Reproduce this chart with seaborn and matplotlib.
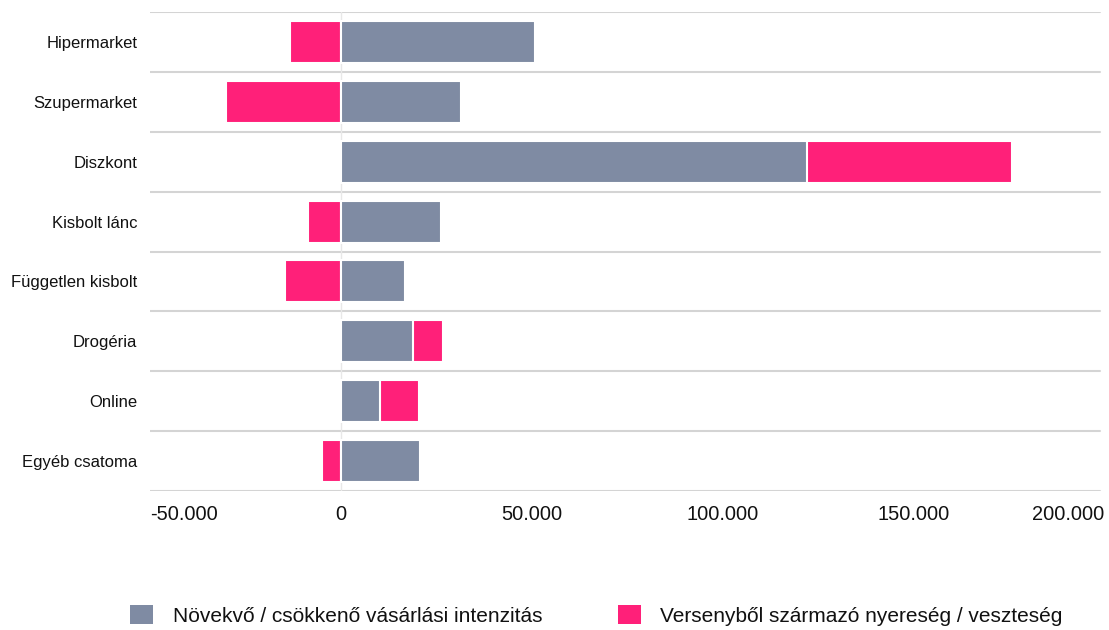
import matplotlib
matplotlib.use("Agg")
import matplotlib.pyplot as plt
import seaborn as sns
import pandas as pd
import numpy as np
from matplotlib.patches import Patch
from matplotlib.ticker import FuncFormatter

categories = ["Hipermarket", "Szupermarket", "Diszkont", "Kisbolt lánc",
              "Független kisbolt", "Drogéria", "Online", "Egyéb csatoma"]
intensity = [51000, 31500, 122200, 26300, 16800, 18800, 10200, 20800]
competition = [-13200, -30000, 53800, -8700, -14500, 8000, 10300, -4800]
series_names = ["Növekvő / csökkenő vásárlási intenzitás",
                "Versenyből származó nyereség / veszteség"]
xticks = [-50000, 0, 50000, 100000, 150000, 200000]

GRAY = "#7f8ba3"
PINK = "#ff2079"

sns.set_theme(style="white")
plt.rcParams["font.family"] = ["Liberation Sans", "DejaVu Sans"]

df = pd.DataFrame({"cat": categories, "intensity": intensity, "competition": competition})
# pink bar end: stacked after gray if positive, from zero if negative
df["pink_end"] = np.where(df["competition"] > 0, df["intensity"] + df["competition"], df["competition"])

fig = plt.figure(figsize=(11.09, 6.30), dpi=100)
ax = fig.add_axes([150/1109, 1 - 491/630, 954/1109, 479/630])

sns.barplot(data=df, y="cat", x="pink_end", color=PINK, saturation=1, width=0.7,
            edgecolor="white", linewidth=1.5, ax=ax, orient="y")
sns.barplot(data=df, y="cat", x="intensity", color=GRAY, saturation=1, width=0.7,
            edgecolor="white", linewidth=1.5, ax=ax, orient="y")

ax.set_xlim(-50000, 200000)
ax.set_ylim(len(categories) - 0.5, -0.5)
ax.set_xlabel("")
ax.set_ylabel("")
ax.set_xticks(xticks)
ax.xaxis.set_major_formatter(FuncFormatter(lambda v, p: f"{int(v):,}".replace(",", ".")))
ax.tick_params(axis="x", labelsize=14.4, colors="#111111", length=0, pad=10)
ax.tick_params(axis="y", labelsize=12, colors="#111111", length=0, pad=9)
xl = ax.get_xticklabels()
xl[0].set_horizontalalignment("left")
xl[-1].set_horizontalalignment("right")

for s in ax.spines.values():
    s.set_visible(False)

for b in np.arange(-0.5, len(categories) + 0.5, 1):
    ax.axhline(b, xmax=(1100 - 150) / 954, color="#d4d4d4", linewidth=1.5, zorder=0)
ax.axvline(0, color="#e8e8e8", linewidth=1, zorder=0)

handles = [Patch(facecolor=GRAY, edgecolor="none"), Patch(facecolor=PINK, edgecolor="none")]
fig.legend(handles, series_names, loc="center", bbox_to_anchor=(0.538, 1 - 615.5/630),
           ncol=2, frameon=False, fontsize=15, handlelength=1.1, handleheight=1.0,
           handletextpad=0.95, columnspacing=3.6, borderpad=0, borderaxespad=0)
for t in fig.legends[0].get_texts():
    t.set_color("#111111")

fig.savefig("out.png", dpi=100)
